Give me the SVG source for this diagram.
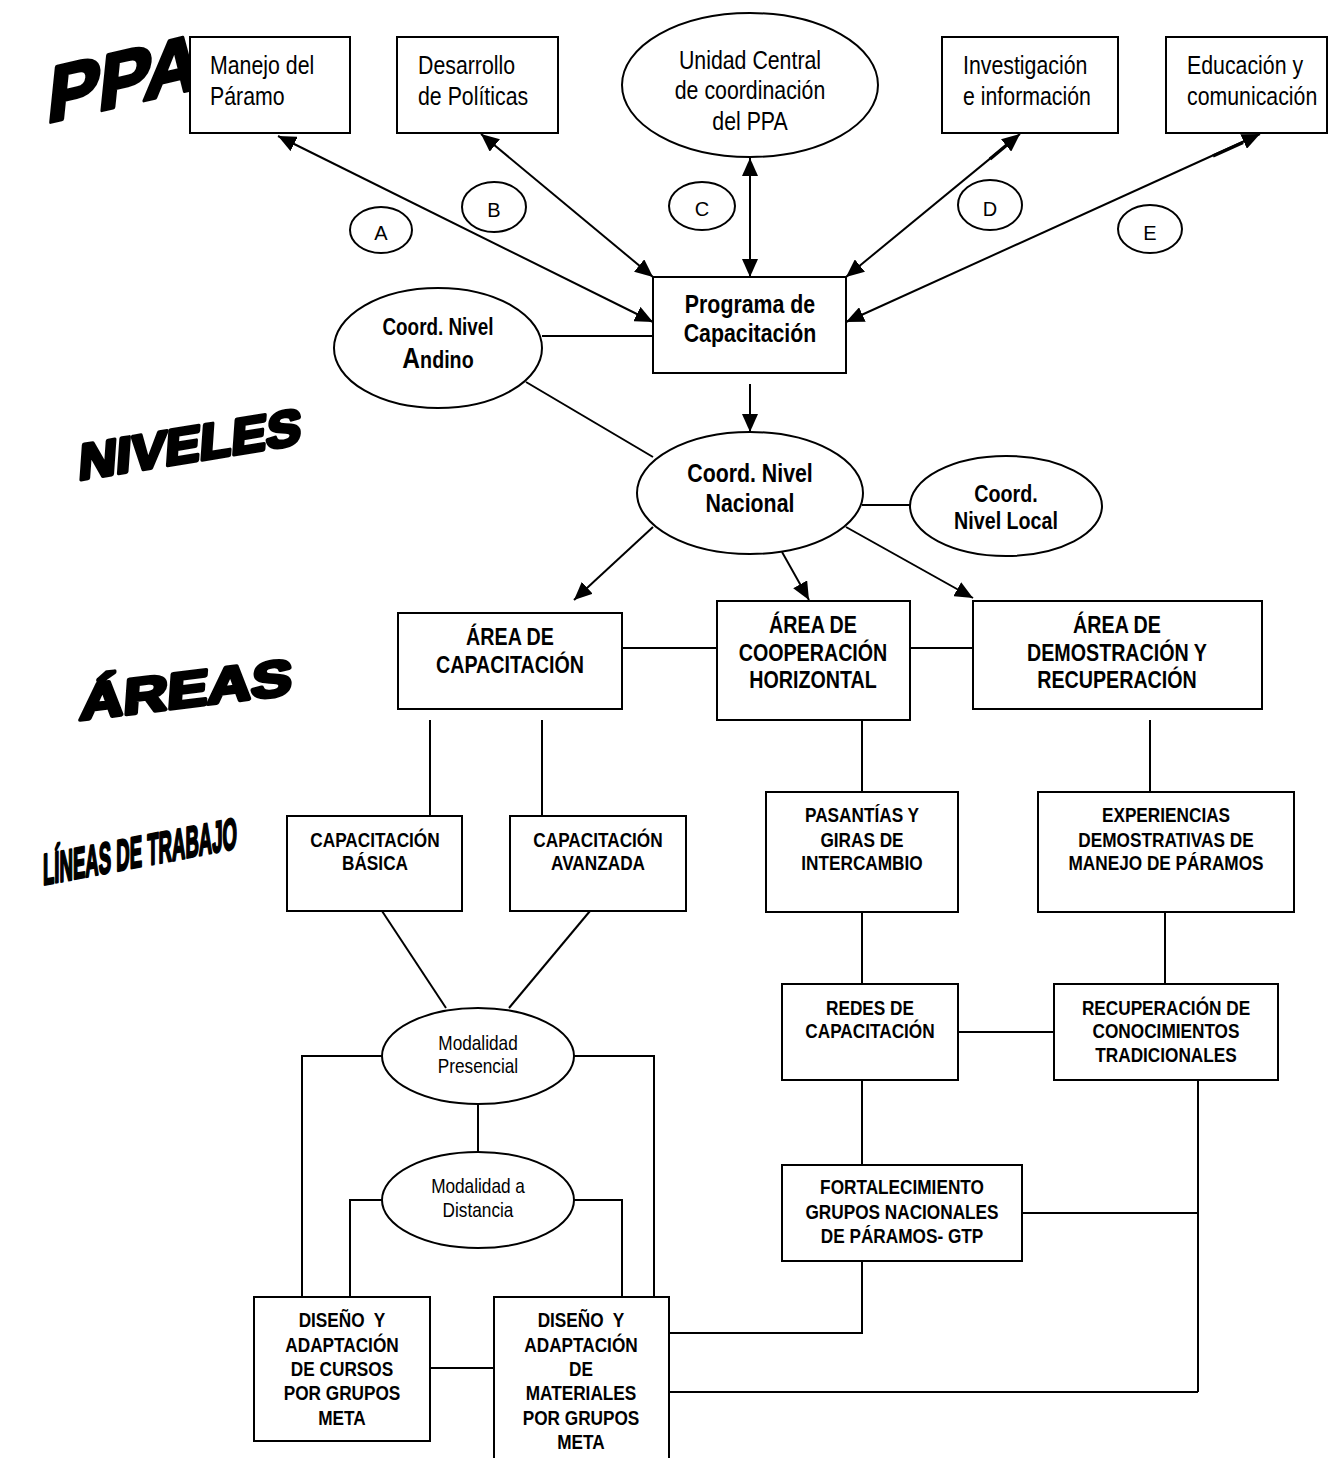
<svg xmlns="http://www.w3.org/2000/svg" width="1329" height="1458" viewBox="0 0 1329 1458">
<style>
.box{fill:#fff;stroke:#000;stroke-width:2}
.ln{stroke:#000;stroke-width:2;fill:none}
.n{font-family:"Liberation Sans",Arial,sans-serif;fill:#000}
.r26{font-size:26px}
.b{font-weight:bold}
.c{text-anchor:middle}
.lt{font-family:"Liberation Sans",Arial,sans-serif;font-size:20px;text-anchor:middle}
.wa{font-family:"Liberation Sans",Arial,sans-serif;font-weight:900;fill:#000;stroke:#000;stroke-width:4;stroke-linejoin:round}
.wn{font-family:"Liberation Sans",Arial,sans-serif;font-weight:bold;fill:#000;stroke:#000;stroke-width:2.5;stroke-linejoin:round}
.pre{white-space:pre}
</style>
<defs>
<marker id="ah" viewBox="0 0 18 16" refX="18" refY="8" markerWidth="18" markerHeight="16" markerUnits="userSpaceOnUse" orient="auto-start-reverse"><path d="M0,0L18,8L0,16z" fill="#000"/></marker>
</defs>
<rect width="1329" height="1458" fill="#fff"/>

<g id="titles">
<text class="wa" font-size="78" textLength="152" lengthAdjust="spacingAndGlyphs" transform="translate(46,123) skewY(-13) skewX(-6)">PPA</text>
<text class="wa" font-size="50" textLength="222" lengthAdjust="spacingAndGlyphs" transform="translate(78,480) skewY(-9.3) skewX(-4)">NIVELES</text>
<text class="wa" font-size="50" textLength="212" lengthAdjust="spacingAndGlyphs" transform="translate(79,720) skewY(-7) skewX(-4)">ÁREAS</text>
<text class="wn" font-size="44" textLength="194" lengthAdjust="spacingAndGlyphs" transform="translate(43,885) skewY(-10.7)">LÍNEAS DE TRABAJO</text>
</g>

<g id="connectors">
<line class="ln" x1="653" y1="322" x2="278" y2="136" marker-start="url(#ah)" marker-end="url(#ah)"/>
<line class="ln" x1="653" y1="277" x2="481" y2="134" marker-start="url(#ah)" marker-end="url(#ah)"/>
<line class="ln" x1="750" y1="277" x2="750" y2="158" marker-start="url(#ah)" marker-end="url(#ah)"/>
<line class="ln" x1="846" y1="277" x2="1020" y2="134" marker-start="url(#ah)" marker-end="url(#ah)"/>
<line class="ln" x1="846" y1="322" x2="1260" y2="134" marker-start="url(#ah)" marker-end="url(#ah)"/>
<line x1="990" y1="159" x2="1008" y2="144" stroke="#000" stroke-width="3.5"/>
<line x1="1213" y1="156" x2="1243" y2="142.5" stroke="#000" stroke-width="3.5"/>
<line class="ln" x1="542" y1="336" x2="653" y2="336"/>
<line class="ln" x1="526" y1="382" x2="653" y2="457"/>
<line class="ln" x1="750" y1="384" x2="750" y2="432" marker-end="url(#ah)"/>
<line class="ln" x1="862" y1="505" x2="910" y2="505"/>
<line class="ln" x1="653" y1="527" x2="574" y2="600" marker-end="url(#ah)"/>
<line class="ln" x1="782" y1="552" x2="809" y2="600" marker-end="url(#ah)"/>
<line class="ln" x1="846" y1="527" x2="973" y2="598" marker-end="url(#ah)"/>
<line class="ln" x1="622" y1="648" x2="717" y2="648"/>
<line class="ln" x1="910" y1="648" x2="973" y2="648"/>
<line class="ln" x1="430" y1="720" x2="430" y2="816"/>
<line class="ln" x1="542" y1="720" x2="542" y2="816"/>
<line class="ln" x1="862" y1="720" x2="862" y2="792"/>
<line class="ln" x1="1150" y1="720" x2="1150" y2="792"/>
<line class="ln" x1="862" y1="912" x2="862" y2="984"/>
<line class="ln" x1="1165" y1="912" x2="1165" y2="984"/>
<line class="ln" x1="958" y1="1032" x2="1054" y2="1032"/>
<line class="ln" x1="862" y1="1068" x2="862" y2="1165"/>
<line class="ln" x1="1198" y1="1080" x2="1198" y2="1392"/>
<line class="ln" x1="1022" y1="1213" x2="1198" y2="1213"/>
<polyline class="ln" points="862,1261 862,1333 669,1333"/>
<line class="ln" x1="1198" y1="1392" x2="669" y2="1392"/>
<line class="ln" x1="382" y1="911" x2="446" y2="1008"/>
<line class="ln" x1="590" y1="911" x2="509" y2="1008"/>
<polyline class="ln" points="382,1056 302,1056 302,1297"/>
<polyline class="ln" points="574,1056 654,1056 654,1297"/>
<line class="ln" x1="478" y1="1104" x2="478" y2="1152"/>
<polyline class="ln" points="382,1200 350,1200 350,1297"/>
<polyline class="ln" points="574,1200 622,1200 622,1297"/>
<line class="ln" x1="430" y1="1368" x2="494" y2="1368"/>
</g>

<g id="manejo"><rect class="box" x="190" y="37" width="160" height="96"/>
<text class="n r26" transform="matrix(.82 0 0 1 210 74)">Manejo del</text><text class="n r26" transform="matrix(.82 0 0 1 210 105)">Páramo</text></g>
<g id="desarrollo"><rect class="box" x="397" y="37" width="161" height="96"/>
<text class="n r26" transform="matrix(.82 0 0 1 418 74)">Desarrollo</text><text class="n r26" transform="matrix(.82 0 0 1 418 105)">de Políticas</text></g>
<g id="unidad"><ellipse class="box" cx="750" cy="85" rx="128" ry="72"/>
<text class="n r26 c" transform="matrix(.82 0 0 1 750 69)">Unidad Central</text><text class="n r26 c" transform="matrix(.82 0 0 1 750 99)">de coordinación</text><text class="n r26 c" transform="matrix(.82 0 0 1 750 130)">del PPA</text></g>
<g id="investigacion"><rect class="box" x="942" y="37" width="176" height="96"/>
<text class="n r26" transform="matrix(.82 0 0 1 963 74)">Investigación</text><text class="n r26" transform="matrix(.82 0 0 1 963 105)">e información</text></g>
<g id="educacion"><rect class="box" x="1166" y="37" width="161" height="96"/>
<text class="n r26" transform="matrix(.82 0 0 1 1187 74)">Educación y</text><text class="n r26" transform="matrix(.82 0 0 1 1187 105)">comunicación</text></g>

<g id="circA"><ellipse class="box" cx="381" cy="230" rx="31" ry="23"/><text class="lt" x="381" y="240">A</text></g>
<g id="circB"><ellipse class="box" cx="494" cy="207" rx="32" ry="25"/><text class="lt" x="494" y="217">B</text></g>
<g id="circC"><ellipse class="box" cx="702" cy="206" rx="33" ry="24"/><text class="lt" x="702" y="216">C</text></g>
<g id="circD"><ellipse class="box" cx="990" cy="205" rx="32" ry="25"/><text class="lt" x="990" y="216">D</text></g>
<g id="circE"><ellipse class="box" cx="1150" cy="229" rx="32" ry="24"/><text class="lt" x="1150" y="240">E</text></g>

<g id="programa"><rect class="box" x="653" y="277" width="193" height="96"/>
<text class="n b c" font-size="26" transform="matrix(.82 0 0 1 750 313)">Programa de</text><text class="n b c" font-size="26" transform="matrix(.82 0 0 1 750 342)">Capacitación</text></g>
<g id="andino"><ellipse class="box" cx="438" cy="348" rx="104" ry="60"/>
<text class="n b c" font-size="23" transform="matrix(.82 0 0 1 438 335)">Coord. Nivel</text>
<text class="n b c" font-size="24" transform="matrix(.82 0 0 1 438 368)"><tspan font-size="30">A</tspan>ndino</text></g>
<g id="nacional"><ellipse class="box" cx="750" cy="493" rx="113" ry="61"/>
<text class="n b c" font-size="26" transform="matrix(.82 0 0 1 750 482)">Coord. Nivel</text><text class="n b c" font-size="26" transform="matrix(.82 0 0 1 750 512)">Nacional</text></g>
<g id="local"><ellipse class="box" cx="1006" cy="506" rx="96" ry="50"/>
<text class="n b c" font-size="24" transform="matrix(.82 0 0 1 1006 502)">Coord.</text><text class="n b c" font-size="24" transform="matrix(.82 0 0 1 1006 529)">Nivel Local</text></g>

<g id="areaCap"><rect class="box" x="398" y="613" width="224" height="96"/>
<text class="n b c" font-size="24" transform="matrix(.82 0 0 1 510 645)">ÁREA DE</text><text class="n b c" font-size="24" transform="matrix(.82 0 0 1 510 673)">CAPACITACIÓN</text></g>
<g id="areaCoop"><rect class="box" x="717" y="601" width="193" height="119"/>
<text class="n b c" font-size="24" transform="matrix(.82 0 0 1 813 633)">ÁREA DE</text><text class="n b c" font-size="24" transform="matrix(.82 0 0 1 813 661)">COOPERACIÓN</text><text class="n b c" font-size="24" transform="matrix(.82 0 0 1 813 688)">HORIZONTAL</text></g>
<g id="areaDem"><rect class="box" x="973" y="601" width="289" height="108"/>
<text class="n b c" font-size="24" transform="matrix(.82 0 0 1 1117 633)">ÁREA DE</text><text class="n b c" font-size="24" transform="matrix(.82 0 0 1 1117 661)">DEMOSTRACIÓN Y</text><text class="n b c" font-size="24" transform="matrix(.82 0 0 1 1117 688)">RECUPERACIÓN</text></g>

<g id="basica"><rect class="box" x="287" y="816" width="175" height="95"/>
<text class="n b c" font-size="21" transform="matrix(.82 0 0 1 375 847)">CAPACITACIÓN</text><text class="n b c" font-size="21" transform="matrix(.82 0 0 1 375 870)">BÁSICA</text></g>
<g id="avanzada"><rect class="box" x="510" y="816" width="176" height="95"/>
<text class="n b c" font-size="21" transform="matrix(.82 0 0 1 598 847)">CAPACITACIÓN</text><text class="n b c" font-size="21" transform="matrix(.82 0 0 1 598 870)">AVANZADA</text></g>
<g id="pasantias"><rect class="box" x="766" y="792" width="192" height="120"/>
<text class="n b c" font-size="21" transform="matrix(.82 0 0 1 862 822)">PASANTÍAS Y</text><text class="n b c" font-size="21" transform="matrix(.82 0 0 1 862 847)">GIRAS DE</text><text class="n b c" font-size="21" transform="matrix(.82 0 0 1 862 870)">INTERCAMBIO</text></g>
<g id="experiencias"><rect class="box" x="1038" y="792" width="256" height="120"/>
<text class="n b c" font-size="21" transform="matrix(.82 0 0 1 1166 822)">EXPERIENCIAS</text><text class="n b c" font-size="21" transform="matrix(.82 0 0 1 1166 847)">DEMOSTRATIVAS DE</text><text class="n b c" font-size="21" transform="matrix(.82 0 0 1 1166 870)">MANEJO DE PÁRAMOS</text></g>

<g id="redes"><rect class="box" x="782" y="984" width="176" height="96"/>
<text class="n b c" font-size="21" transform="matrix(.82 0 0 1 870 1015)">REDES DE</text><text class="n b c" font-size="21" transform="matrix(.82 0 0 1 870 1038)">CAPACITACIÓN</text></g>
<g id="recuperacion"><rect class="box" x="1054" y="984" width="224" height="96"/>
<text class="n b c" font-size="21" transform="matrix(.82 0 0 1 1166 1015)">RECUPERACIÓN DE</text><text class="n b c" font-size="21" transform="matrix(.82 0 0 1 1166 1038)">CONOCIMIENTOS</text><text class="n b c" font-size="21" transform="matrix(.82 0 0 1 1166 1062)">TRADICIONALES</text></g>
<g id="fortalecimiento"><rect class="box" x="782" y="1165" width="240" height="96"/>
<text class="n b c" font-size="21" transform="matrix(.82 0 0 1 902 1194)">FORTALECIMIENTO</text><text class="n b c" font-size="21" transform="matrix(.82 0 0 1 902 1219)">GRUPOS NACIONALES</text><text class="n b c" font-size="21" transform="matrix(.82 0 0 1 902 1243)">DE PÁRAMOS- GTP</text></g>

<g id="presencial"><ellipse class="box" cx="478" cy="1056" rx="96" ry="48"/>
<text class="n c" font-size="21" transform="matrix(.82 0 0 1 478 1050)">Modalidad</text><text class="n c" font-size="21" transform="matrix(.82 0 0 1 478 1073)">Presencial</text></g>
<g id="distancia"><ellipse class="box" cx="478" cy="1200" rx="96" ry="48"/>
<text class="n c" font-size="21" transform="matrix(.82 0 0 1 478 1193)">Modalidad a</text><text class="n c" font-size="21" transform="matrix(.82 0 0 1 478 1217)">Distancia</text></g>

<g id="cursos"><rect class="box" x="254" y="1297" width="176" height="144"/>
<text class="n b c pre" font-size="21" transform="matrix(.82 0 0 1 342 1327)">DISEÑO  Y</text><text class="n b c" font-size="21" transform="matrix(.82 0 0 1 342 1352)">ADAPTACIÓN</text><text class="n b c" font-size="21" transform="matrix(.82 0 0 1 342 1376)">DE CURSOS</text><text class="n b c" font-size="21" transform="matrix(.82 0 0 1 342 1400)">POR GRUPOS</text><text class="n b c" font-size="21" transform="matrix(.82 0 0 1 342 1425)">META</text></g>
<g id="materiales"><rect class="box" x="494" y="1297" width="175" height="170"/>
<text class="n b c pre" font-size="21" transform="matrix(.82 0 0 1 581 1327)">DISEÑO  Y</text><text class="n b c" font-size="21" transform="matrix(.82 0 0 1 581 1352)">ADAPTACIÓN</text><text class="n b c" font-size="21" transform="matrix(.82 0 0 1 581 1376)">DE</text><text class="n b c" font-size="21" transform="matrix(.82 0 0 1 581 1400)">MATERIALES</text><text class="n b c" font-size="21" transform="matrix(.82 0 0 1 581 1425)">POR GRUPOS</text><text class="n b c" font-size="21" transform="matrix(.82 0 0 1 581 1449)">META</text></g>
</svg>
